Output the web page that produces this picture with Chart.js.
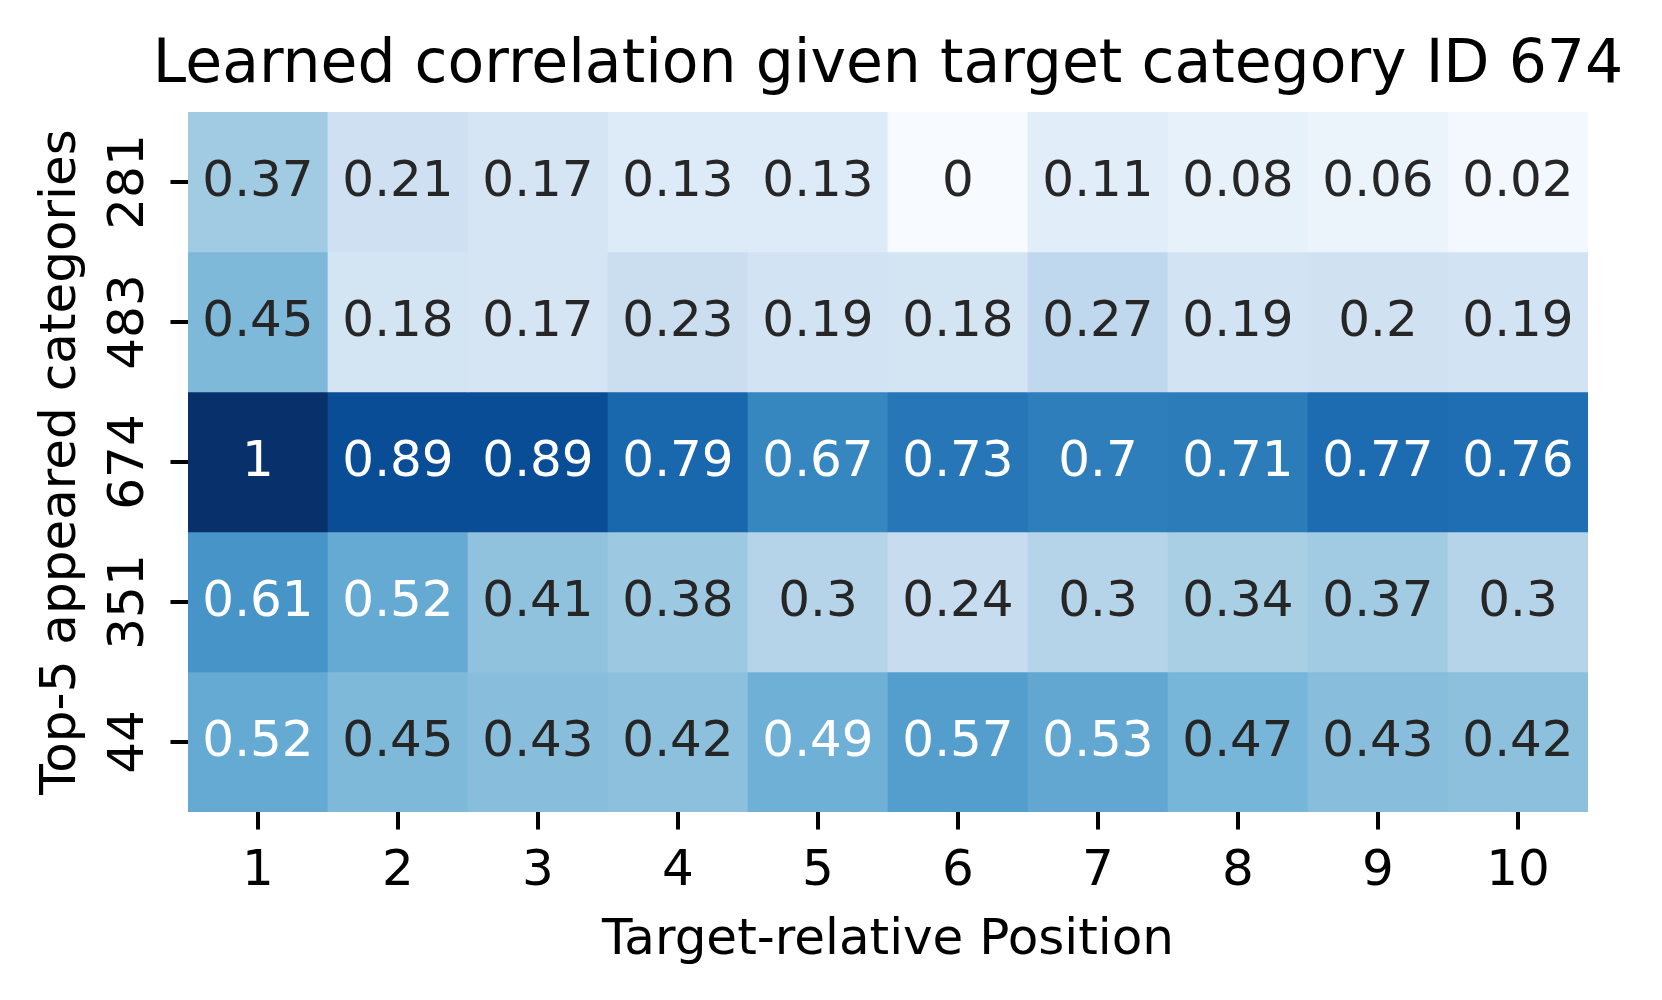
<!DOCTYPE html>
<html>
<head>
<meta charset="utf-8">
<title>Learned correlation heatmap</title>
<script src="https://cdn.jsdelivr.net/npm/chart.js@4"></script>
<style>
  html, body { margin: 0; padding: 0; background: #ffffff; }
  canvas { display: block; }
</style>
</head>
<body>
<canvas id="myChart" width="1662" height="1000" style="width:1662px;height:1000px"></canvas>
<script>
// Data
var positions = ['1', '2', '3', '4', '5', '6', '7', '8', '9', '10'];
var categories = ['281', '483', '674', '351', '44'];

var row281 = [0.37, 0.21, 0.17, 0.13, 0.13, 0, 0.11, 0.08, 0.06, 0.02];
var row483 = [0.45, 0.18, 0.17, 0.23, 0.19, 0.18, 0.27, 0.19, 0.2, 0.19];
var row674 = [1, 0.89, 0.89, 0.79, 0.67, 0.73, 0.7, 0.71, 0.77, 0.76];
var row351 = [0.61, 0.52, 0.41, 0.38, 0.3, 0.24, 0.3, 0.34, 0.37, 0.3];
var row44 = [0.52, 0.45, 0.43, 0.42, 0.49, 0.57, 0.53, 0.47, 0.43, 0.42];

var rows = [row281, row483, row674, row351, row44];

var titleText = 'Learned correlation given target category ID 674';
var xTitle = 'Target-relative Position';
var yTitle = 'Top-5 appeared categories';

// matplotlib "Blues" anchors
var bluesStops = ['#f7fbff', '#deebf7', '#c6dbef', '#9ecae1', '#6baed6', '#4292c6', '#2171b5', '#08519c', '#08306b'];

function hexToRgb(h) {
    return [parseInt(h.slice(1, 3), 16), parseInt(h.slice(3, 5), 16), parseInt(h.slice(5, 7), 16)];
}

function blues(v) {
    var t = Math.max(0, Math.min(1, v)) * (bluesStops.length - 1);
    var i = Math.min(Math.floor(t), bluesStops.length - 2);
    var f = t - i;
    var a = hexToRgb(bluesStops[i]);
    var b = hexToRgb(bluesStops[i + 1]);
    return [0, 1, 2].map(function (k) { return Math.round(a[k] + (b[k] - a[k]) * f); });
}

function rgbStr(c) {
    return 'rgb(' + c[0] + ',' + c[1] + ',' + c[2] + ')';
}

// same rule seaborn uses to pick the annotation colour
function textColor(c) {
    var lin = c.map(function (x) {
        x = x / 255;
        return x <= 0.03928 ? x / 12.92 : Math.pow((x + 0.055) / 1.055, 2.4);
    });
    var lum = 0.2126 * lin[0] + 0.7152 * lin[1] + 0.0722 * lin[2];
    return lum > 0.408 ? '#262626' : '#ffffff';
}

var FONT = '"DejaVu Sans", "Liberation Sans", sans-serif';

// one floating-bar dataset per heatmap row
var datasets = rows.map(function (vals, r) {
    return {
        label: categories[r],
        data: vals.map(function () { return [r, r + 1]; }),
        backgroundColor: function (ctx) {
            return rgbStr(blues(rows[ctx.datasetIndex][ctx.dataIndex]));
        },
        borderWidth: 0,
        barPercentage: 1,
        categoryPercentage: 1,
        grouped: false
    };
});

var heatmapText = {
    id: 'heatmapText',
    afterDraw: function (chart) {
        var ctx = chart.ctx;
        var xs = chart.scales.x;
        var ys = chart.scales.y;
        var area = chart.chartArea;
        var cx = (area.left + area.right) / 2;
        var cy = (area.top + area.bottom) / 2;

        ctx.save();

        // cell annotations
        ctx.font = '50px ' + FONT;
        ctx.textAlign = 'center';
        ctx.textBaseline = 'alphabetic';
        chart.data.datasets.forEach(function (ds, r) {
            chart.getDatasetMeta(r).data.forEach(function (el, i) {
                var v = rows[r][i];
                var mid = (el.y + el.base) / 2;
                ctx.fillStyle = textColor(blues(v));
                ctx.fillText(String(Number(v.toPrecision(2))), el.x, mid + 14);
            });
        });

        // tick marks
        ctx.strokeStyle = '#000000';
        ctx.lineWidth = 4;
        ctx.beginPath();
        positions.forEach(function (p, i) {
            var x = xs.getPixelForValue(i);
            ctx.moveTo(x, area.bottom);
            ctx.lineTo(x, area.bottom + 17.5);
        });
        categories.forEach(function (c, r) {
            var y = ys.getPixelForValue(r + 0.5);
            ctx.moveTo(area.left - 17.5, y);
            ctx.lineTo(area.left, y);
        });
        ctx.stroke();

        // tick labels
        ctx.fillStyle = '#000000';
        ctx.font = '50px ' + FONT;
        ctx.textAlign = 'center';
        positions.forEach(function (p, i) {
            ctx.fillText(p, xs.getPixelForValue(i), area.bottom + 73);
        });
        categories.forEach(function (c, r) {
            ctx.save();
            ctx.translate(area.left - 45, ys.getPixelForValue(r + 0.5));
            ctx.rotate(-Math.PI / 2);
            ctx.fillText(c, 0, 0);
            ctx.restore();
        });

        // axis titles
        ctx.fillText(xTitle, cx, area.bottom + 141.5);
        ctx.save();
        ctx.translate(75, cy);
        ctx.rotate(-Math.PI / 2);
        ctx.fillText(yTitle, 0, 0);
        ctx.restore();

        // chart title
        ctx.font = '60px ' + FONT;
        ctx.fillText(titleText, cx, area.top - 30);

        ctx.restore();
    }
};

var myChartElement = document.getElementById('myChart');
var myChart = new Chart(myChartElement.getContext('2d'), {
    type: 'bar',
    data: { labels: positions, datasets: datasets },
    options: {
        responsive: false,
        devicePixelRatio: 1,
        animation: false,
        layout: { padding: { left: 188, right: 74, top: 112, bottom: 188 } },
        plugins: {
            legend: { display: false },
            title: { display: false },
            tooltip: { enabled: false }
        },
        scales: {
            x: { type: 'category', offset: true, display: false },
            y: { type: 'linear', min: 0, max: 5, reverse: true, display: false }
        }
    },
    plugins: [heatmapText]
});
</script>
</body>
</html>
